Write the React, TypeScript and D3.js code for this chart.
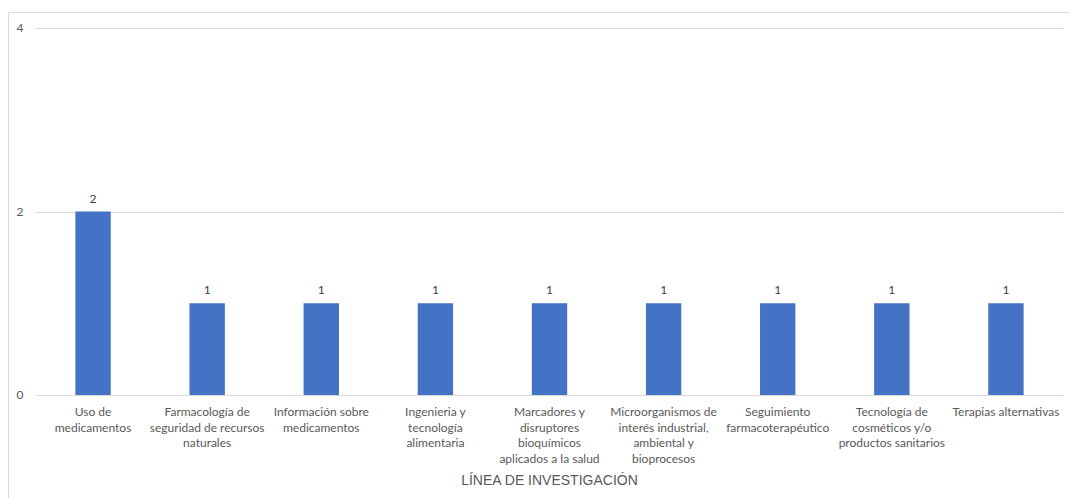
import React, { useRef, useEffect } from 'react';
import * as d3 from 'd3';

const categories: string[][] = [
  ['Uso de', 'medicamentos'],
  ['Farmacología de', 'seguridad de recursos', 'naturales'],
  ['Información sobre', 'medicamentos'],
  ['Ingenieria y', 'tecnología', 'alimentaria'],
  ['Marcadores y', 'disruptores', 'bioquímicos', 'aplicados a la salud'],
  ['Microorganismos de', 'interés industrial,', 'ambiental y', 'bioprocesos'],
  ['Seguimiento', 'farmacoterapéutico'],
  ['Tecnología de', 'cosméticos y/o', 'productos sanitarios'],
  ['Terapias alternativas'],
];
const values: number[] = [2, 1, 1, 1, 1, 1, 1, 1, 1];
const yTicks: number[] = [0, 2, 4];
const axisTitle = 'LÍNEA DE INVESTIGACIÓN';

export default function App() {
  const svgRef = useRef<SVGSVGElement>(null);

  useEffect(() => {
    if (!svgRef.current) return;
    const svg = d3.select(svgRef.current);
    svg.selectAll('*').remove();

    const width = 1069;
    const height = 498;
    const margin = { top: 28, right: 6, bottom: 103, left: 36 };
    const labelFont = 'Lato, "Open Sans", sans-serif';

    // chart frame (only top and left edges visible in the crop)
    svg.append('path')
      .attr('d', `M8.5,${height} V12.5 H${width}`)
      .attr('fill', 'none')
      .attr('stroke', '#d9d9d9')
      .attr('stroke-width', 1);

    const x = d3.scaleBand<number>()
      .domain(d3.range(values.length))
      .range([margin.left, width - margin.right])
      .paddingInner(0.69)
      .paddingOuter(0.345);

    const y = d3.scaleLinear()
      .domain([0, 4])
      .range([height - margin.bottom, margin.top]);

    // gridlines
    svg.append('g')
      .selectAll('line')
      .data(yTicks)
      .enter().append('line')
      .attr('x1', margin.left)
      .attr('x2', width - margin.right)
      .attr('y1', d => Math.round(y(d)) + 0.5)
      .attr('y2', d => Math.round(y(d)) + 0.5)
      .attr('stroke', '#d9d9d9')
      .attr('stroke-width', 1);

    // y tick labels
    svg.append('g')
      .selectAll('text')
      .data(yTicks)
      .enter().append('text')
      .attr('x', 20)
      .attr('y', d => y(d) + 4)
      .attr('text-anchor', 'middle')
      .attr('fill', '#595959')
      .attr('font-family', labelFont)
      .attr('font-size', '12px')
      .text(d => d);

    // bars
    svg.append('g')
      .selectAll('rect')
      .data(values)
      .enter().append('rect')
      .attr('x', (_, i) => x(i)!)
      .attr('y', d => y(d))
      .attr('width', x.bandwidth())
      .attr('height', d => y(0) - y(d))
      .attr('fill', '#4472c4');

    // value labels
    svg.append('g')
      .selectAll('text')
      .data(values)
      .enter().append('text')
      .attr('x', (_, i) => x(i)! + x.bandwidth() / 2)
      .attr('y', d => y(d) - 9)
      .attr('text-anchor', 'middle')
      .attr('fill', '#404040')
      .attr('font-family', labelFont)
      .attr('font-size', '12px')
      .text(d => d);

    // category labels (wrapped)
    const cat = svg.append('g')
      .selectAll('text')
      .data(categories)
      .enter().append('text')
      .attr('x', (_, i) => x(i)! + x.bandwidth() / 2)
      .attr('y', y(0) + 21)
      .attr('text-anchor', 'middle')
      .attr('fill', '#595959')
      .attr('font-family', labelFont)
      .attr('font-size', '12px');

    cat.selectAll('tspan')
      .data((d, i) => d.map(line => ({ line, i })))
      .enter().append('tspan')
      .attr('x', d => x(d.i)! + x.bandwidth() / 2)
      .attr('dy', (_, j) => (j === 0 ? 0 : 15.7))
      .text(d => d.line);

    // axis title
    svg.append('text')
      .attr('x', (margin.left + width - margin.right) / 2)
      .attr('y', 485)
      .attr('text-anchor', 'middle')
      .attr('fill', '#595959')
      .attr('font-family', '"Liberation Sans", Arial, sans-serif')
      .attr('font-size', '14px')
      .text(axisTitle);
  }, []);

  return (
    <svg
      ref={svgRef}
      width={1069}
      height={498}
      style={{ position: 'absolute', left: 0, top: 0, background: '#fff' }}
    />
  );
}
